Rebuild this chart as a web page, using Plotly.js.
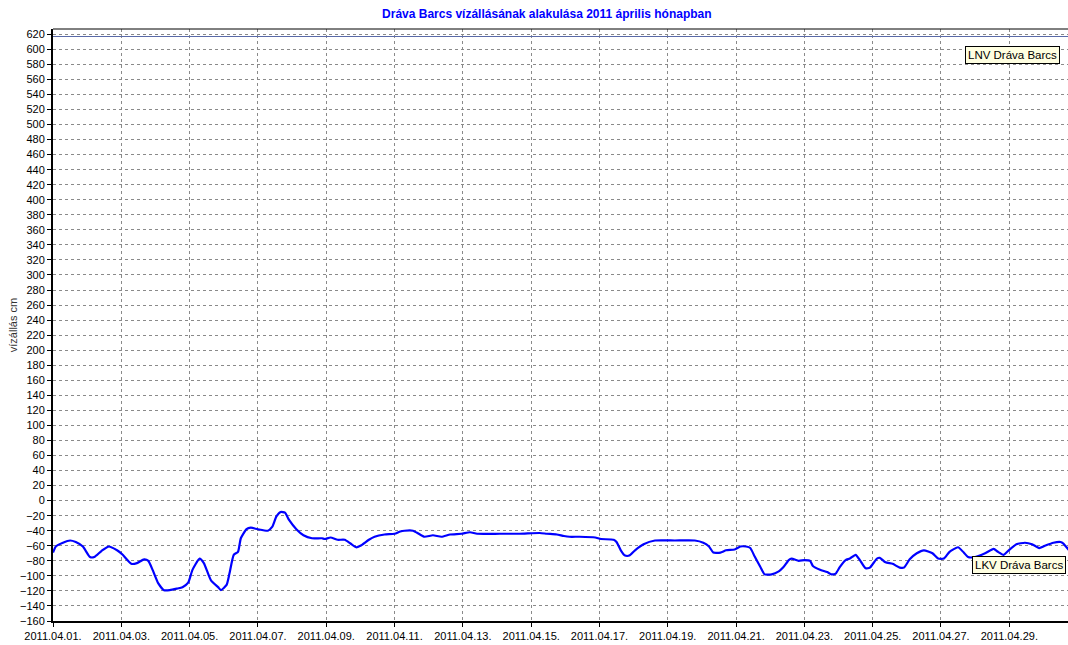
<!DOCTYPE html>
<html>
<head>
<meta charset="utf-8">
<script src="https://cdn.plot.ly/plotly-3.0.1.min.js"></script>
<style>html,body{margin:0;padding:0;background:#fff;}#chart{width:1068px;height:645px;}</style>
</head>
<body>
<div id="chart"></div>
<script>
const chartTitle = "Dráva Barcs vízállásának alakulása 2011 április hónapban";
const yTitle = "vízállás cm";
const lnvLabel = "LNV Dráva Barcs";
const lkvLabel = "LKV Dráva Barcs";
const lnvLevel = 617;

const times = [
"2011-04-01 00:00","2011-04-01 02:00","2011-04-01 07:00","2011-04-01 12:00","2011-04-01 16:00","2011-04-01 21:00",
"2011-04-02 02:00","2011-04-02 05:00","2011-04-02 10:00","2011-04-02 15:00","2011-04-02 21:00",
"2011-04-03 01:00","2011-04-03 07:00","2011-04-03 11:00","2011-04-03 16:00","2011-04-03 19:00","2011-04-03 22:00",
"2011-04-04 02:00","2011-04-04 06:00","2011-04-04 10:00","2011-04-04 15:00","2011-04-04 19:00","2011-04-04 23:00",
"2011-04-05 02:00","2011-04-05 07:00","2011-04-05 10:00","2011-04-05 15:00","2011-04-05 20:00","2011-04-05 22:00",
"2011-04-06 02:00","2011-04-06 04:00","2011-04-06 07:00","2011-04-06 10:00","2011-04-06 12:00","2011-04-06 16:00","2011-04-06 19:00",
"2011-04-07 00:00","2011-04-07 07:00","2011-04-07 10:00","2011-04-07 13:00","2011-04-07 16:00","2011-04-07 19:00","2011-04-07 22:00",
"2011-04-08 03:00","2011-04-08 08:00","2011-04-08 14:00","2011-04-08 21:00","2011-04-08 23:00",
"2011-04-09 03:00","2011-04-09 08:00","2011-04-09 13:00","2011-04-09 17:00","2011-04-09 21:00",
"2011-04-10 00:00","2011-04-10 06:00","2011-04-10 10:00","2011-04-10 17:00",
"2011-04-11 00:00","2011-04-11 04:00","2011-04-11 07:00","2011-04-11 13:00","2011-04-11 17:00","2011-04-11 21:00",
"2011-04-12 03:00","2011-04-12 09:00","2011-04-12 15:00","2011-04-12 23:00",
"2011-04-13 05:00","2011-04-13 10:00","2011-04-14 02:00","2011-04-14 16:00",
"2011-04-15 06:00","2011-04-15 11:00","2011-04-15 18:00","2011-04-15 23:00",
"2011-04-16 03:00","2011-04-16 10:00","2011-04-16 21:00",
"2011-04-17 01:00","2011-04-17 10:00","2011-04-17 12:00","2011-04-17 15:00","2011-04-17 18:00","2011-04-17 21:00",
"2011-04-18 01:00","2011-04-18 07:00","2011-04-18 15:00","2011-04-19 05:00","2011-04-19 19:00",
"2011-04-20 01:00","2011-04-20 05:00","2011-04-20 08:00","2011-04-20 13:00","2011-04-20 17:00","2011-04-20 23:00",
"2011-04-21 03:00","2011-04-21 07:00","2011-04-21 10:00","2011-04-21 13:00","2011-04-21 17:00","2011-04-21 20:00",
"2011-04-22 01:00","2011-04-22 06:00","2011-04-22 09:00","2011-04-22 13:00","2011-04-22 15:00","2011-04-22 20:00",
"2011-04-23 00:00","2011-04-23 04:00","2011-04-23 06:00","2011-04-23 11:00","2011-04-23 16:00","2011-04-23 19:00","2011-04-23 22:00",
"2011-04-24 01:00","2011-04-24 05:00","2011-04-24 08:00","2011-04-24 12:00","2011-04-24 15:00","2011-04-24 19:00","2011-04-24 22:00",
"2011-04-25 03:00","2011-04-25 05:00","2011-04-25 09:00","2011-04-25 14:00","2011-04-25 19:00","2011-04-25 22:00",
"2011-04-26 02:00","2011-04-26 07:00","2011-04-26 12:00","2011-04-26 18:00","2011-04-26 22:00",
"2011-04-27 02:00","2011-04-27 06:00","2011-04-27 12:00","2011-04-27 16:00","2011-04-27 19:00",
"2011-04-28 00:00","2011-04-28 07:00","2011-04-28 13:00","2011-04-28 16:00","2011-04-28 20:00","2011-04-28 23:00",
"2011-04-29 05:00","2011-04-29 11:00","2011-04-29 16:00","2011-04-29 21:00",
"2011-04-30 01:00","2011-04-30 07:00","2011-04-30 12:00","2011-04-30 14:00","2011-04-30 18:00"
];
const levels = [
-69,-61,-56,-53,-55,-61,
-75,-75,-67,-61,-66,
-72,-84,-83,-78,-80,-92,
-110,-119,-119,-117,-115,-109,
-92,-77,-83,-106,-115,-119,
-112,-97,-72,-68,-50,-38,-36,
-38,-40,-35,-21,-15,-16,-26,
-38,-46,-50,-50,-51,
-49,-52,-52,-57,-62,
-60,-52,-48,-45,
-44,-41,-40,-40,-44,-48,
-46,-48,-45,-44,
-42,-44,-44,-44,
-43,-44,-45,-47,
-48,-48,-49,
-51,-52,-55,-66,-73,-73,
-66,-58,-53,-53,-53,
-56,-61,-69,-69,-66,-65,
-61,-61,-63,-74,-88,-98,
-98,-94,-89,-79,-77,-80,
-79,-80,-87,-92,-95,-98,-97,
-88,-79,-77,-72,-79,-90,-89,
-77,-76,-82,-84,-89,-89,
-78,-70,-66,-70,-77,
-77,-68,-62,-69,-75,
-75,-70,-64,-68,-72,-67,
-58,-56,-58,-63,
-60,-56,-55,-57,-66
];

const xRange = ["2011-04-01 00:00", "2011-04-30 17:15"];
const yRange = [-160, 627];

const FONT = "Liberation Sans, Arial, sans-serif";

const trace = {
  x: times, y: levels, type: "scatter", mode: "lines",
  line: {color: "#0000ff", width: 2.2, shape: "spline", smoothing: 0.5},
  hoverinfo: "x+y", showlegend: false
};

const layout = {
  width: 1068, height: 645,
  margin: {l: 53, r: 0, t: 29, b: 24, pad: 0},
  paper_bgcolor: "#ffffff", plot_bgcolor: "#ffffff",
  font: {family: FONT, size: 11, color: "#000"},
  showlegend: false,
  title: {text: "<b>" + chartTitle + "</b>", x: 0.512, xref: "container", xanchor: "center",
          y: 0.985, yref: "container", yanchor: "top",
          font: {family: FONT, size: 12, color: "#0000ff"}},
  xaxis: {
    type: "date", range: xRange, tickformat: "%Y.%m.%d.", dtick: 2*86400000, tick0: "2011-04-01",
    showgrid: true, gridcolor: "#8a8a8a", griddash: "3px,3px", gridwidth: 1,
    showline: true, linecolor: "#000", linewidth: 2,
    ticks: "outside", ticklen: 4, tickcolor: "#000",
    tickfont: {family: FONT, size: 11, color: "#000"}, zeroline: false, fixedrange: true
  },
  yaxis: {
    range: yRange, dtick: 20, tick0: 0,
    showgrid: true, gridcolor: "#8a8a8a", griddash: "3px,3px", gridwidth: 1,
    showline: true, linecolor: "#000", linewidth: 2,
    ticks: "outside", ticklen: 4, tickcolor: "#000",
    tickfont: {family: FONT, size: 11, color: "#000"}, zeroline: false, fixedrange: true,
    title: {text: yTitle, standoff: 0, font: {family: FONT, size: 11, color: "#333"}}
  },
  shapes: [
    {type: "line", xref: "paper", yref: "y", x0: 0, x1: 1, y0: lnvLevel, y1: lnvLevel,
     line: {color: "#5a6aa8", width: 1.2}},
    {type: "line", xref: "paper", yref: "paper", x0: 0, x1: 1, y0: 1, y1: 1,
     line: {color: "#000", width: 1}}
  ],
  annotations: [
    {text: lnvLabel, xref: "paper", yref: "paper", x: 0.9925, y: 0.971, xanchor: "right", yanchor: "top",
     showarrow: false, bgcolor: "#ffffe1", bordercolor: "#000", borderwidth: 1, borderpad: 2,
     font: {family: FONT, size: 11.5, color: "#000"}},
    {text: lkvLabel, xref: "paper", yref: "paper", x: 0.9985, y: 0.109, xanchor: "right", yanchor: "top",
     showarrow: false, bgcolor: "#ffffe1", bordercolor: "#000", borderwidth: 1, borderpad: 2,
     font: {family: FONT, size: 11.5, color: "#000"}}
  ]
};

Plotly.newPlot("chart", [trace], layout, {displayModeBar: false, staticPlot: true});
</script>
</body>
</html>
